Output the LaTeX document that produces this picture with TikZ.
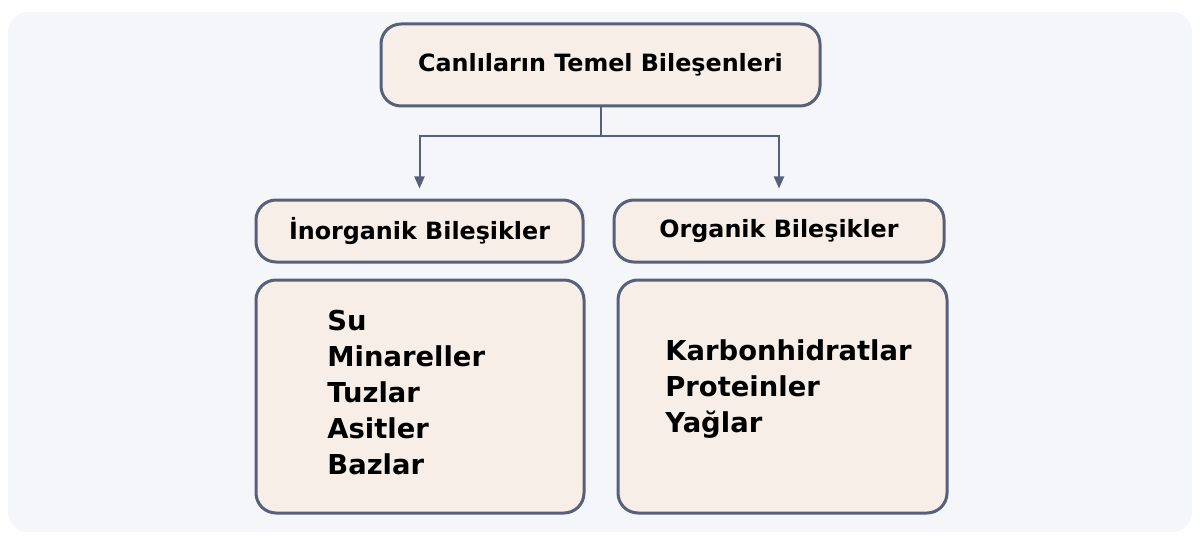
\documentclass[tikz,border=0pt]{standalone}
\usepackage{fontspec}
\setmainfont{DejaVu Sans}
\usetikzlibrary{arrows.meta,positioning}
\definecolor{edgeblue}{HTML}{56607A}
\definecolor{boxfill}{HTML}{F7EFE7}
\definecolor{bgfill}{HTML}{F4F6FA}

\begin{document}
\begin{tikzpicture}[
    x=0.5pt, y=-0.5pt,
    box/.style={draw=edgeblue, line width=1.5pt, fill=boxfill, rounded corners=10pt, font=\bfseries\fontsize{11.9}{14}\selectfont},
    itemlist/.style={align=left, inner sep=0pt, anchor=west, font=\bfseries\fontsize{13.7}{18}\selectfont},
    arrow/.style={-{Triangle[length=6pt, width=5pt]}, draw=edgeblue, line width=1pt, shorten >=5pt}
]
\useasboundingbox (0,0) rectangle (1200,540);
\fill[bgfill, rounded corners=10pt] (8,12) rectangle (1192,532);
\node[box, minimum width=219.5pt, minimum height=41pt] (root) at (600.5,65) {Canlıların Temel Bileşenleri};
\node[box, minimum width=163.5pt, minimum height=31pt] (inorg) at (419.5,231) {İnorganik Bileşikler};
\node[box, minimum width=165pt, minimum height=31pt] (org) at (779,231) {Organik Bileşikler};
\node[box, minimum width=164pt, minimum height=116.5pt] (inorglist) at (420,396.5) {};
\node[box, minimum width=164.5pt, minimum height=116.5pt] (orglist) at (782.5,396.5) {};
\node[itemlist] (inorgitems) at (327,393) {Su\\Minareller\\Tuzlar\\Asitler\\Bazlar};
\node[itemlist] (orgitems) at (665,389) {Karbonhidratlar\\Proteinler\\Yağlar};
\coordinate (split) at (600.5,136);
\draw[edgeblue, line width=1pt] (root.south) -- (split);
\draw[arrow] (split) -| (inorg.north);
\draw[arrow] (split) -| (org.north);
\end{tikzpicture}
\end{document}
